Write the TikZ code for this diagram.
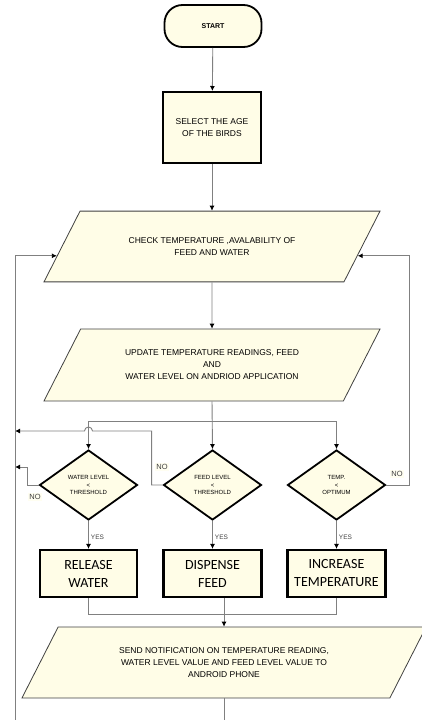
\documentclass[tikz,border=0pt]{standalone}
\usepackage{fontspec}
\setmainfont{Liberation Sans}
\newfontfamily\boxfont{Carlito}
\usetikzlibrary{shapes.geometric,arrows.meta,calc}
\definecolor{cream}{RGB}{255,253,231}
\definecolor{lgray}{RGB}{128,128,128}
\definecolor{dgray}{RGB}{64,64,64}
\begin{document}
\begin{tikzpicture}[x=1pt,y=-1pt,
  conn/.style={draw=lgray,line width=0.9pt},
  arr/.style={conn,-{Latex[length=5pt,width=5pt,color=black]}},
  term/.style={draw=black,line width=1.8pt,fill=cream,rounded corners=18pt,minimum width=97pt,minimum height=42pt,font=\fontsize{7}{8}\selectfont\bfseries},
  proc/.style={draw=black,line width=2pt,fill=cream,minimum width=98pt,minimum height=71pt,align=center,font=\fontsize{8.5}{12}\selectfont},
  io/.style={trapezium,trapezium left angle=63,trapezium right angle=117,trapezium stretches body,draw=dgray,line width=0.8pt,fill=cream,minimum height=0pt,inner xsep=0pt,align=center,font=\fontsize{8.5}{12}\selectfont},
  dec/.style={diamond,draw=black,line width=1.8pt,fill=cream,minimum width=98pt,minimum height=70pt,inner sep=0pt,align=center,font=\fontsize{6}{7.2}\selectfont},
  act/.style={draw=black,line width=2.2pt,fill=cream,minimum width=98pt,minimum height=47pt,align=center,font=\boxfont\fontsize{14}{18}\selectfont},
  yes/.style={right,font=\fontsize{6.5}{7}\selectfont,text=dgray,inner sep=2pt},
  no/.style={font=\fontsize{7.5}{8}\selectfont,text=dgray,fill=cream!60,inner sep=1pt},
]
\useasboundingbox (0,0) rectangle (422,720);

\node[term] (start) at (213,26) {START};
\node[proc] (sel) at (212,127.5) {SELECT THE AGE\\OF THE BIRDS};
\node[io,minimum width=336pt,inner ysep=26.4pt] (chk) at (212,246.5) {CHECK TEMPERATURE ,AVALABILITY OF\\FEED AND WATER};
\node[io,minimum width=336pt,inner ysep=20.9pt] (upd) at (212,365) {UPDATE TEMPERATURE READINGS, FEED\\AND\\WATER LEVEL ON ANDRIOD APPLICATION};

\node[dec] (waterd) at (88.5,485) {WATER LEVEL\\<\\THRESHOLD};
\node[dec] (feedd) at (212.5,485) {FEED LEVEL\\<\\THRESHOLD};
\node[dec] (tempd) at (336.5,485) {TEMP.\\<\\OPTIMUM};

\node[act,minimum width=97pt] (waterbox) at (88.5,573.5) {RELEASE\\WATER};
\node[act] (feedbox) at (212.5,573.5) {DISPENSE\\FEED};
\node[act] (tempbox) at (336.5,573.5) {INCREASE\\TEMPERATURE};

\node[io,minimum width=404pt,inner ysep=20.4pt] (send) at (224,662.5) {SEND NOTIFICATION ON TEMPERATURE READING,\\WATER LEVEL VALUE AND FEED LEVEL VALUE TO\\ANDROID PHONE};

\node[no] (nowater) at (35,497) {NO};
\node[no] (nofeed) at (162,467) {NO};
\node[no] (notemp) at (397,474) {NO};

% helper coordinates
\coordinate (chkL) at ($(chk.top left corner)!0.63!(chk.bottom left corner)$);
\coordinate (chkR) at ($(chk.top right corner)!0.63!(chk.bottom right corner)$);
\coordinate (j1) at (upd.south |- 0,421);
\coordinate (bl) at (15,726);
\coordinate (rx) at (409,485);

% main flow
\draw[arr] (start) -- (sel);
\draw[arr] (sel) -- (chk);
\draw[arr] (chk) -- (upd);
\draw[arr] (upd.south) -- (feedd.north);
\draw[arr] (j1) -| (waterd.north);
\draw[arr] (j1) -| (tempd.north);

% yes branches
\draw[arr] (waterd.south) -- node[yes,pos=0.6] {YES} (waterbox.north);
\draw[arr] (feedd.south) -- node[yes,pos=0.6] {YES} (feedbox.north);
\draw[arr] (tempd.south) -- node[yes,pos=0.6] {YES} (tempbox.north);

% no branches
\draw[arr] (waterd.west) -- ++(-11,0) |- (bl |- 0,467);
\draw[arr] (feedd.west) -- ++(-11,0) |- ([xshift=4pt]waterd.north |- 0,431) arc[start angle=0,end angle=180,radius=4pt] -- (bl |- 0,431);
\draw[arr] (tempd.east) -- (rx) |- (chkR);

% join to send
\draw[conn] (waterbox.south) |- (tempbox.south |- 0,614) -- (tempbox.south);
\draw[arr] (send.north |- feedbox.south) -- (send.north);

% loop back
\draw[arr] (send.south) -- (send.south |- bl) -- (bl) |- (chkL);
\end{tikzpicture}
\end{document}
